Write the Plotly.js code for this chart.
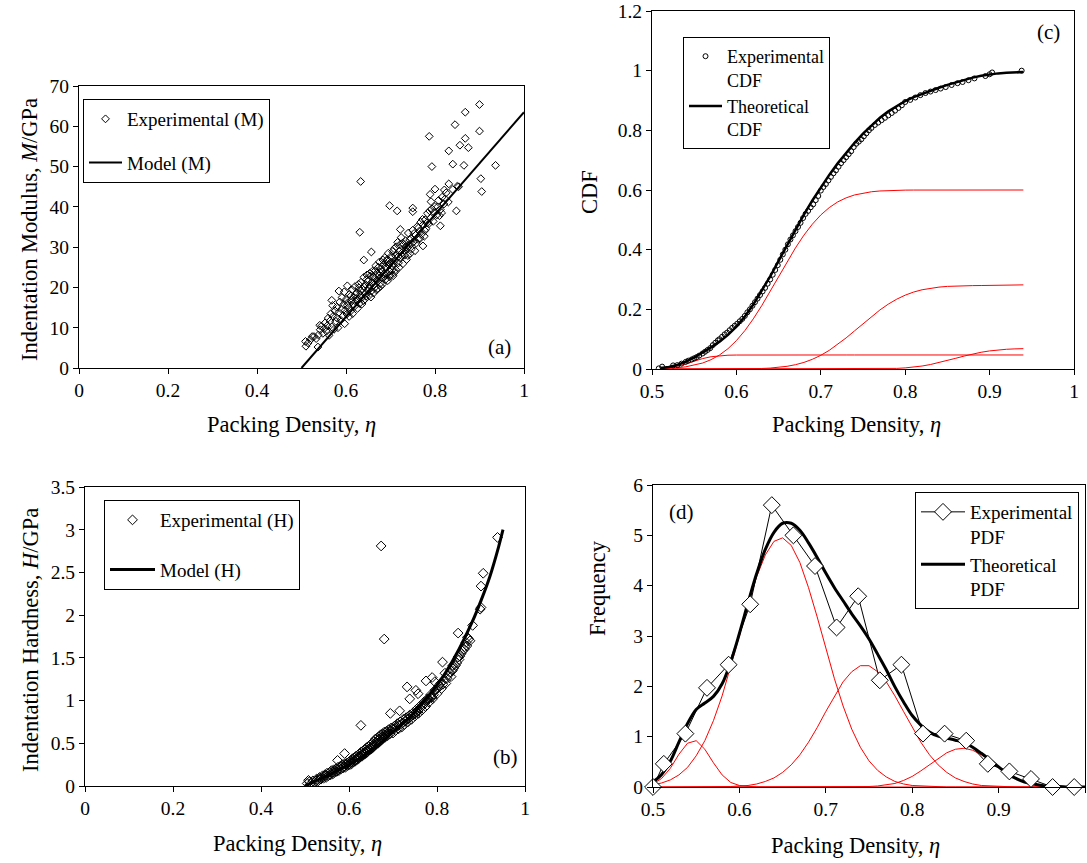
<!DOCTYPE html>
<html><head><meta charset="utf-8">
<script src="https://cdn.plot.ly/plotly-3.0.1.min.js"></script>
<style>body{margin:0;background:#fff}</style>
</head><body>
<div id="chart" style="width:1087px;height:863px"></div>
<script>
// ---------- DATA ----------
// (a) Indentation modulus vs packing density
const expModulus = [
[0.515,6.2],[0.52,7.0],[0.528,7.8],[0.533,7.3],[0.538,8.2],[0.542,9.5],[0.545,10.4],[0.548,8.6],[0.551,9.8],[0.553,11.2],
[0.556,9.1],[0.558,10.5],[0.56,12.4],[0.562,8.1],[0.564,11.7],[0.566,13.5],[0.568,10.2],[0.57,15.5],[0.571,12.8],[0.573,9.6],
[0.575,14.2],[0.577,11.6],[0.579,15.1],[0.58,12.4],[0.582,10.0],[0.584,13.8],[0.586,16.4],[0.588,11.9],[0.59,14.6],[0.591,17.5],
[0.593,12.9],[0.595,15.8],[0.597,11.0],[0.598,14.3],[0.6,17.0],[0.602,13.4],[0.604,16.2],[0.606,15.0],[0.608,18.3],[0.61,14.1],
[0.612,16.8],[0.614,19.4],[0.615,13.5],[0.617,17.6],[0.619,15.3],[0.62,20.2],[0.622,16.5],[0.624,18.7],[0.626,14.8],[0.627,17.2],
[0.629,19.9],[0.63,16.0],[0.632,18.1],[0.634,21.3],[0.635,17.4],[0.637,19.6],[0.639,16.7],[0.64,22.5],[0.642,18.4],[0.644,20.7],
[0.645,17.8],[0.647,23.1],[0.649,19.3],[0.65,21.6],[0.652,18.0],[0.654,20.4],[0.655,22.8],[0.657,19.1],[0.659,24.0],[0.66,21.2],
[0.662,18.6],[0.664,22.3],[0.665,20.0],[0.667,25.4],[0.669,21.8],[0.67,23.6],[0.672,19.7],[0.674,22.9],[0.675,26.3],[0.677,21.0],
[0.679,24.5],[0.68,22.4],[0.682,20.8],[0.684,25.7],[0.685,23.3],[0.687,27.4],[0.689,22.0],[0.69,24.9],[0.692,26.6],[0.694,21.7],
[0.695,28.5],[0.697,24.1],[0.699,26.0],[0.7,23.2],[0.702,27.8],[0.704,25.3],[0.706,22.9],[0.708,29.6],[0.71,26.7],[0.712,24.4],
[0.714,28.2],[0.716,31.2],[0.718,26.1],[0.72,29.0],[0.722,27.3],[0.724,32.4],[0.726,28.6],[0.728,25.9],[0.73,30.7],[0.732,28.0],
[0.734,31.6],[0.736,26.9],[0.738,29.8],[0.74,33.5],[0.742,30.3],[0.744,28.4],[0.746,32.1],[0.748,30.9],[0.75,34.2],[0.752,31.4],
[0.755,29.1],[0.757,33.0],[0.76,35.1],[0.762,31.9],[0.765,34.0],[0.768,36.2],[0.77,33.3],[0.773,35.5],[0.776,32.7],[0.778,36.8],
[0.78,34.6],[0.783,38.4],[0.786,35.8],[0.79,37.2],[0.793,39.5],[0.796,36.4],[0.8,40.1],[0.804,38.0],[0.808,41.6],[0.812,39.3],
[0.816,42.4],[0.82,40.7],[0.825,43.5],[0.83,41.2],[0.84,44.3],[0.85,45.1],
[0.603,15.6],[0.607,12.8],[0.611,17.9],[0.616,15.9],[0.621,18.2],[0.625,16.9],[0.628,20.8],[0.633,19.2],[0.636,15.9],[0.641,20.1],
[0.643,17.1],[0.646,21.9],[0.651,19.8],[0.653,23.5],[0.656,17.6],[0.661,22.7],[0.663,20.6],[0.666,24.2],[0.668,19.4],[0.671,21.5],
[0.673,25.0],[0.676,23.8],[0.678,20.3],[0.681,24.0],[0.683,26.8],[0.686,22.6],[0.688,25.1],[0.691,23.4],[0.693,27.0],[0.696,25.6],
[0.698,22.6],[0.701,26.3],[0.703,24.3],[0.705,28.9],[0.707,26.0],[0.709,23.7],[0.711,27.9],[0.713,30.1],[0.717,27.6],[0.719,24.9],
[0.721,30.6],[0.725,27.9],[0.727,31.0],[0.731,29.2],[0.735,30.0],[0.739,27.9],[0.743,31.8],[0.747,29.5],[0.753,33.4],[0.758,31.0],
[0.763,34.8],[0.767,32.2],[0.772,36.9],[0.777,34.1],[0.782,36.0],[0.788,39.0],[0.798,38.6],[0.806,40.0],[0.815,38.5],[0.823,42.0],
[0.633,46.3],[0.631,33.7],[0.787,57.5],[0.9,65.4],[0.868,63.5],[0.845,60.4],[0.9,58.8],[0.868,57.0],[0.856,55.3],[0.875,54.7],
[0.831,53.9],[0.84,50.6],[0.865,50.3],[0.936,50.3],[0.793,50.0],[0.903,47.0],[0.905,43.8],[0.848,39.0],[0.853,45.0],[0.831,45.7],
[0.821,44.2],[0.80,44.4],[0.81,37.8],[0.812,35.3],[0.789,43.1],[0.791,41.3],[0.698,40.3],[0.715,39.0],[0.75,39.7],[0.75,38.8],
[0.773,30.3],[0.657,28.8],[0.64,26.8],[0.722,34.4],[0.596,18.9],[0.584,19.1],[0.603,20.4],[0.509,6.6],[0.51,5.4],[0.537,5.2],
[0.524,7.8],[0.541,10.6],[0.568,16.8]
];
const modelEtaM = [0.5, 0.75, 1.0];
const modelM = [0, 31.75, 63.5];

// (b) Indentation hardness vs packing density
const expHardness = [
[0.505,0.03],[0.51,0.05],[0.512,0.02],[0.518,0.06],[0.522,0.04],[0.526,0.08],[0.53,0.06],[0.533,0.1],[0.536,0.08],[0.54,0.12],
[0.542,0.09],[0.545,0.13],[0.548,0.1],[0.55,0.15],[0.553,0.12],[0.556,0.16],[0.558,0.13],[0.56,0.18],[0.563,0.14],[0.565,0.19],
[0.567,0.16],[0.57,0.2],[0.572,0.17],[0.575,0.22],[0.577,0.18],[0.58,0.23],[0.582,0.2],[0.585,0.25],[0.587,0.21],[0.59,0.26],
[0.592,0.22],[0.595,0.27],[0.597,0.24],[0.6,0.28],[0.602,0.25],[0.604,0.3],[0.606,0.26],[0.608,0.32],[0.61,0.28],[0.612,0.33],
[0.614,0.29],[0.616,0.35],[0.618,0.31],[0.62,0.36],[0.622,0.32],[0.624,0.38],[0.626,0.34],[0.628,0.4],[0.63,0.35],[0.632,0.41],
[0.634,0.37],[0.636,0.43],[0.638,0.38],[0.64,0.45],[0.642,0.4],[0.644,0.46],[0.646,0.42],[0.648,0.48],[0.65,0.43],[0.652,0.5],
[0.654,0.45],[0.656,0.52],[0.658,0.47],[0.66,0.55],[0.662,0.49],[0.664,0.56],[0.666,0.5],[0.668,0.58],[0.67,0.52],[0.672,0.6],
[0.674,0.54],[0.676,0.61],[0.678,0.56],[0.68,0.63],[0.682,0.57],[0.685,0.64],[0.688,0.59],[0.69,0.66],[0.693,0.61],[0.696,0.68],
[0.7,0.62],[0.703,0.7],[0.706,0.65],[0.71,0.73],[0.713,0.67],[0.716,0.75],[0.72,0.69],[0.723,0.78],[0.726,0.72],[0.73,0.8],
[0.734,0.75],[0.738,0.83],[0.742,0.78],[0.746,0.86],[0.75,0.82],[0.754,0.9],[0.758,0.85],[0.762,0.94],[0.766,0.89],[0.77,0.98],
[0.774,0.93],[0.778,1.02],[0.782,0.98],[0.786,1.07],[0.79,1.02],[0.795,1.12],[0.8,1.08],[0.805,1.18],[0.81,1.14],[0.815,1.24],
[0.82,1.2],[0.826,1.3],[0.832,1.28],[0.838,1.38],[0.845,1.44],[0.852,1.52],[0.858,1.58],[0.866,1.68],[0.872,1.72],
[0.601,0.26],[0.605,0.28],[0.609,0.3],[0.613,0.3],[0.617,0.32],[0.621,0.34],[0.625,0.35],[0.629,0.37],[0.633,0.38],[0.637,0.4],
[0.641,0.42],[0.645,0.43],[0.649,0.45],[0.653,0.47],[0.657,0.49],[0.661,0.51],[0.665,0.53],[0.669,0.55],[0.673,0.57],[0.677,0.58],
[0.681,0.6],[0.686,0.61],[0.691,0.63],[0.695,0.65],[0.699,0.67],[0.704,0.67],[0.708,0.7],[0.712,0.71],[0.718,0.72],[0.722,0.74],
[0.728,0.76],[0.732,0.78],[0.736,0.79],[0.74,0.81],[0.745,0.83],[0.749,0.85],[0.753,0.87],[0.757,0.88],[0.761,0.91],[0.765,0.93],
[0.769,0.95],[0.773,0.97],[0.777,1.0],[0.781,1.02],[0.785,1.04],[0.792,1.07],[0.798,1.13],[0.803,1.15],[0.808,1.2],[0.813,1.19],
[0.823,1.26],[0.829,1.33],[0.835,1.35],[0.842,1.41],[0.85,1.48],[0.855,1.55],[0.862,1.6],[0.868,1.64],[0.875,1.7],[0.562,0.16],
[0.568,0.18],[0.578,0.21],[0.588,0.23],[0.594,0.25],[0.546,0.12],[0.535,0.09],[0.525,0.06],
[0.673,2.81],[0.68,1.72],[0.627,0.71],[0.732,1.16],[0.9375,2.91],[0.905,2.49],[0.90,2.34],[0.90,2.09],[0.898,2.07],[0.881,1.88],
[0.848,1.79],[0.869,1.74],[0.863,1.63],[0.848,1.51],[0.836,1.41],[0.8125,1.45],[0.789,1.27],[0.775,1.23],[0.789,1.04],[0.752,1.12],
[0.738,1.02],[0.754,0.86],[0.694,0.85],[0.715,0.88],[0.59,0.38],[0.574,0.3],[0.508,0.066],[0.757,1.08],[0.795,1.22],[0.818,1.32]
];
const modelEtaH = [0.5,0.52,0.55,0.58,0.6,0.62,0.65,0.68,0.7,0.72,0.75,0.78,0.8,0.82,0.85,0.88,0.9,0.92,0.94,0.95];
const modelH    = [0.0,0.05,0.12,0.2,0.25,0.31,0.41,0.54,0.63,0.72,0.87,1.05,1.18,1.33,1.6,1.92,2.17,2.45,2.8,3.0];

// (c) CDF
const expCDF = [
[0.508,0.002],[0.512,0.008],[0.525,0.012],[0.53,0.013],[0.535,0.018],[0.54,0.024],[0.543,0.028],[0.547,0.032],[0.55,0.036],[0.553,0.04],
[0.556,0.045],[0.56,0.052],[0.563,0.058],[0.566,0.064],[0.569,0.07],[0.572,0.08],[0.575,0.088],[0.578,0.096],[0.58,0.1],[0.583,0.108],
[0.586,0.116],[0.589,0.122],[0.592,0.13],[0.595,0.138],[0.598,0.145],[0.601,0.152],[0.604,0.16],[0.607,0.168],[0.61,0.178],[0.613,0.19],
[0.616,0.2],[0.619,0.212],[0.622,0.224],[0.625,0.236],[0.628,0.248],[0.631,0.26],[0.634,0.272],[0.637,0.286],[0.64,0.3],[0.643,0.316],
[0.646,0.332],[0.649,0.348],[0.652,0.366],[0.655,0.384],[0.658,0.4],[0.661,0.418],[0.664,0.434],[0.667,0.448],[0.67,0.462],[0.673,0.476],
[0.676,0.49],[0.679,0.506],[0.682,0.52],[0.685,0.53],[0.688,0.542],[0.691,0.552],[0.694,0.566],[0.697,0.58],[0.7,0.598],[0.703,0.61],
[0.706,0.62],[0.709,0.632],[0.712,0.644],[0.715,0.656],[0.718,0.666],[0.721,0.678],[0.724,0.69],[0.727,0.7],[0.73,0.71],[0.733,0.72],
[0.736,0.73],[0.739,0.744],[0.742,0.755],[0.745,0.762],[0.748,0.77],[0.751,0.78],[0.754,0.79],[0.757,0.8],[0.76,0.808],[0.764,0.818],
[0.768,0.826],[0.772,0.834],[0.776,0.842],[0.78,0.85],[0.784,0.858],[0.788,0.866],[0.792,0.875],[0.796,0.884],[0.8,0.895],[0.806,0.902],
[0.812,0.91],[0.818,0.918],[0.824,0.925],[0.83,0.93],[0.836,0.935],[0.842,0.94],[0.848,0.945],[0.855,0.952],[0.862,0.958],[0.868,0.962],
[0.875,0.968],[0.882,0.974],[0.895,0.982],[0.9,0.988],[0.903,0.994],[0.938,1.0]
];
const cdfEta = [0.51,0.52,0.53,0.54,0.55,0.56,0.57,0.58,0.59,0.60,0.61,0.62,0.63,0.64,0.65,0.66,0.67,0.68,0.69,0.70,
0.71,0.72,0.73,0.74,0.75,0.76,0.77,0.78,0.79,0.80,0.81,0.82,0.83,0.84,0.85,0.86,0.87,0.88,0.89,0.90,0.91,0.92,0.93,0.94];
const cdfTheory = [0.003,0.0065,0.0135,0.0244,0.0387,0.0549,0.0724,0.0917,0.1143,0.1422,0.176,0.2159,0.261,0.3101,0.3625,0.415,0.4674,0.5177,0.565,0.6093,
0.6505,0.6892,0.7249,0.7582,0.7891,0.8169,0.842,0.8637,0.8822,0.8982,0.9112,0.9226,0.9331,0.9428,0.9523,0.9613,0.9696,0.9768,0.9829,0.9876,0.9909,0.9931,0.9944,0.9952];
const cdfComp1 = [0.0015,0.0042,0.0093,0.0171,0.0263,0.0349,0.0411,0.0447,0.0463,0.0468,
0.047,0.047,0.047,0.047,0.047,0.047,0.047,0.047,0.047,0.047,0.047,0.047,0.047,0.047,0.047,0.047,0.047,0.047,0.047,0.047,0.047,0.047,0.047,0.047,0.047,0.047,0.047,0.047,0.047,0.047,0.047,0.047,0.047,0.047];
const cdfComp2 = [0.0012,0.0023,0.0042,0.0073,0.0124,0.0200,0.0313,0.047,0.068,0.0952,0.1285,0.168,0.2123,0.260,0.310,0.359,0.406,0.4486,0.4855,0.5164,
0.541,0.560,0.5737,0.5834,0.5899,0.5941,0.5967,0.5982,0.5991,0.5996,0.5998,0.5999,0.6,0.6,0.6,0.6,0.6,0.6,0.6,0.6,0.6,0.6,0.6,0.6];
const cdfComp3 = [0,0,0,0,0,0,0,0,0.0001,0.0002,
0.0005,0.0009,0.0017,0.0031,0.0055,0.009,0.0144,0.0221,0.0325,0.0459,0.0625,0.0822,0.1042,0.1278,0.1522,0.1758,0.1978,0.2175,0.2341,0.2475,
0.2579,0.2656,0.271,0.2745,0.2769,0.2783,0.2791,0.2795,0.2798,0.28,0.2805,0.281,0.2815,0.282];
const cdfComp4 = [0,0,0,0,0,0,0,0,0,0,0,0,0,0,0,0,0,0,0,0,0,0,0,0,0,0,
0.0005,0.001,0.002,0.0037,0.0063,0.01,0.0151,0.0213,0.0284,0.036,0.0435,0.0503,0.0561,0.0606,0.0639,0.0661,0.0674,0.0682];

// (d) PDF
const pdfBinEta = [0.5,0.5125,0.5375,0.5625,0.5875,0.6125,0.6375,0.6625,0.6875,0.7125,0.7375,0.7625,0.7875,0.8125,0.8375,0.8625,0.8875,0.9125,0.9375,0.9625,0.9875];
const pdfFreq   = [0,0.46,1.06,1.97,2.43,3.63,5.6,5.0,4.39,3.17,3.79,2.12,2.43,1.06,1.06,0.92,0.46,0.31,0.16,0,0];
const pdfEta = [0.50,0.51,0.52,0.53,0.54,0.55,0.56,0.57,0.58,0.59,0.60,0.61,0.62,0.63,0.64,0.65,0.66,0.67,0.68,0.69,
0.70,0.71,0.72,0.73,0.74,0.75,0.76,0.77,0.78,0.79,0.80,0.81,0.82,0.83,0.84,0.85,0.86,0.87,0.88,0.89,
0.90,0.91,0.92,0.93,0.94,0.95,0.96,0.97,0.98,0.99,1.00];
const pdfTheory = [0.10,0.25,0.51,0.89,1.26,1.54,1.67,1.80,2.05,2.49,3.05,3.66,4.24,4.72,5.06,5.24,5.24,5.10,4.85,4.56,
4.25,3.96,3.70,3.44,3.20,2.94,2.64,2.33,1.99,1.69,1.42,1.23,1.09,1.01,0.97,0.93,0.88,0.79,0.67,0.54,
0.40,0.27,0.17,0.10,0.06,0.03,0.01,0.01,0,0,0];
const pdfComp1 = [0.06,0.17,0.37,0.65,0.87,0.92,0.75,0.48,0.24,0.09,0.03,0.01,
0,0,0,0,0,0,0,0,0,0,0,0,0,0,0,0,0,0,0,0,0,0,0,0,0,0,0,0,0,0,0,0,0,0,0,0,0,0,0];
const pdfComp2 = [0.04,0.08,0.14,0.24,0.39,0.62,0.92,1.32,1.81,2.39,3.00,3.62,4.18,4.61,4.88,4.95,4.80,4.46,3.96,3.38,
2.75,2.15,1.61,1.15,0.79,0.52,0.33,0.20,0.11,0.06,0.03,0.02,0.01,
0,0,0,0,0,0,0,0,0,0,0,0,0,0,0,0,0,0];
const pdfComp3 = [0,0,0,0,0,0,0,0,0,0.01,
0.02,0.03,0.06,0.11,0.18,0.29,0.44,0.64,0.89,1.18,1.50,1.81,2.09,2.29,2.41,2.41,2.29,2.09,1.81,1.50,1.18,0.89,0.64,0.44,0.29,0.18,0.11,0.06,0.03,0.02,0.01,
0,0,0,0,0,0,0,0,0,0];
const pdfComp4 = [0,0,0,0,0,0,0,0,0,0,0,0,0,0,0,0,0,0,0,0,0,0,0,0,
0,0.01,0.02,0.04,0.07,0.13,0.21,0.32,0.44,0.57,0.68,0.75,0.77,0.73,0.64,0.52,0.39,0.27,0.17,0.10,0.06,0.03,0.01,0.01,
0,0,0];

// ---------- LAYOUT HELPERS ----------
const W = 1087, H = 863;
const FONT = 'Liberation Serif';
const P = {
  a: {l:79,  r:524,  t:86,  b:368},
  c: {l:652, r:1074, t:11,  b:369},
  b: {l:85,  r:525,  t:487, b:786},
  d: {l:653, r:1085, t:485, b:787}
};
const xd = p => [p.l/W, p.r/W];
const yd = p => [1 - p.b/H, 1 - p.t/H];
const px = v => v/W, py = v => 1 - v/H;

const axBase = {
  showline:true, linecolor:'black', linewidth:1, mirror:true,
  ticks:'outside', ticklen:5, tickcolor:'black', tickwidth:1,
  showgrid:false, zeroline:false, fixedrange:true,
  tickfont:{family:FONT, size:19.5, color:'black'}
};
const ax = (o) => Object.assign({}, axBase, o);

const red = {color:'#ff0000', width:1};
const col = (arr,i) => arr.map(p => p[i]);

const traces = [
  // (a)
  {x:col(expModulus,0), y:col(expModulus,1), type:'scatter', mode:'markers', name:'Experimental (M)',
   marker:{symbol:'diamond-open', size:6, color:'black', line:{width:1}}, xaxis:'x', yaxis:'y', legend:'legend', legendgroup:'a1'},
  {x:modelEtaM, y:modelM, type:'scatter', mode:'lines', name:'Model (M)',
   line:{color:'black', width:2}, xaxis:'x', yaxis:'y', legend:'legend', legendgroup:'a2'},
  // (c)
  {x:cdfEta, y:cdfComp1, mode:'lines', line:red, showlegend:false, xaxis:'x2', yaxis:'y2'},
  {x:cdfEta, y:cdfComp2, mode:'lines', line:red, showlegend:false, xaxis:'x2', yaxis:'y2'},
  {x:cdfEta, y:cdfComp3, mode:'lines', line:red, showlegend:false, xaxis:'x2', yaxis:'y2'},
  {x:cdfEta, y:cdfComp4, mode:'lines', line:red, showlegend:false, xaxis:'x2', yaxis:'y2'},
  {x:col(expCDF,0), y:col(expCDF,1), type:'scatter', mode:'markers', name:'Experimental<br>CDF',
   marker:{symbol:'circle-open', size:5, color:'black', line:{width:1}}, xaxis:'x2', yaxis:'y2', legend:'legend2', legendgroup:'c1'},
  {x:cdfEta, y:cdfTheory, type:'scatter', mode:'lines', name:'Theoretical<br>CDF',
   line:{color:'black', width:2.5}, xaxis:'x2', yaxis:'y2', legend:'legend2', legendgroup:'c2'},
  // (b)
  {x:col(expHardness,0), y:col(expHardness,1), type:'scatter', mode:'markers', name:'Experimental (H)',
   marker:{symbol:'diamond-open', size:7.5, color:'black', line:{width:1}}, xaxis:'x3', yaxis:'y3', legend:'legend3', legendgroup:'b1'},
  {x:modelEtaH, y:modelH, type:'scatter', mode:'lines', name:'Model (H)', line:{color:'black', width:3, shape:'spline'},
   xaxis:'x3', yaxis:'y3', legend:'legend3', legendgroup:'b2'},
  // (d)
  {x:pdfEta, y:pdfComp1, mode:'lines', line:red, showlegend:false, xaxis:'x4', yaxis:'y4', cliponaxis:false},
  {x:pdfEta, y:pdfComp2, mode:'lines', line:red, showlegend:false, xaxis:'x4', yaxis:'y4', cliponaxis:false},
  {x:pdfEta, y:pdfComp3, mode:'lines', line:red, showlegend:false, xaxis:'x4', yaxis:'y4', cliponaxis:false},
  {x:pdfEta, y:pdfComp4, mode:'lines', line:red, showlegend:false, xaxis:'x4', yaxis:'y4', cliponaxis:false},
  {x:pdfEta, y:pdfTheory, type:'scatter', mode:'lines', name:'Theoretical<br>PDF', line:{color:'black', width:3, shape:'spline'},
   xaxis:'x4', yaxis:'y4', legend:'legend4', legendgroup:'d2', legendrank:2},
  {x:pdfBinEta, y:pdfFreq, type:'scatter', mode:'lines+markers', name:'Experimental<br>PDF',
   line:{color:'black', width:1}, marker:{symbol:'diamond', size:13, color:'white', line:{color:'black', width:1}},
   xaxis:'x4', yaxis:'y4', legend:'legend4', legendgroup:'d1', legendrank:1, cliponaxis:false}
];

const legBase = {xref:'paper', yref:'paper', xanchor:'left', yanchor:'top', bgcolor:'white',
  bordercolor:'black', borderwidth:1, font:{family:FONT, size:19, color:'black'}, valign:'top'};
const leg = o => Object.assign({}, legBase, o);

const ann = (x, y, text, o) => Object.assign({xref:'paper', yref:'paper', x:px(x), y:py(y), text,
  showarrow:false, font:{family:FONT, size:22.5, color:'black'}, xanchor:'center', yanchor:'middle'}, o||{});

const etaTitle = 'Packing Density, <i>η</i>';
const lblFont = {family:FONT, size:21, color:'black'};

const layout = {
  width:W, height:H, margin:{l:0, r:0, t:0, b:0},
  paper_bgcolor:'white', plot_bgcolor:'white', showlegend:true,
  font:{family:FONT, color:'black'},
  xaxis:  ax({domain:xd(P.a), range:[0,1], dtick:0.2, tick0:0, anchor:'y'}),
  yaxis:  ax({domain:yd(P.a), range:[0,70], dtick:10, tick0:0, anchor:'x'}),
  xaxis2: ax({domain:xd(P.c), range:[0.5,1], dtick:0.1, tick0:0.5, anchor:'y2'}),
  yaxis2: ax({domain:yd(P.c), range:[0,1.2], dtick:0.2, tick0:0, anchor:'x2'}),
  xaxis3: ax({domain:xd(P.b), range:[0,1], dtick:0.2, tick0:0, anchor:'y3'}),
  yaxis3: ax({domain:yd(P.b), range:[0,3.5], dtick:0.5, tick0:0, anchor:'x3'}),
  xaxis4: ax({domain:xd(P.d), range:[0.5,1], dtick:0.1, tick0:0.5, anchor:'y4'}),
  yaxis4: ax({domain:yd(P.d), range:[0,6], dtick:1, tick0:0, anchor:'x4'}),
  legend:  leg({x:px(83),  y:py(99),  tracegroupgap:16, itemwidth:33}),
  legend2: leg({x:px(683), y:py(37),  tracegroupgap:0,  itemwidth:33, font:{family:FONT, size:18, color:'black'}}),
  legend3: leg({x:px(104), y:py(500), tracegroupgap:22, itemwidth:45}),
  legend4: leg({x:px(915), y:py(492), tracegroupgap:0,  itemwidth:44}),
  annotations: [
    ann(291, 424, etaTitle),
    ann(30, 230, 'Indentation Modulus, <i>M</i>/GPa', {textangle:-90}),
    ann(856, 424, etaTitle),
    ann(590, 192, 'CDF', {textangle:-90}),
    ann(297, 843, etaTitle),
    ann(30, 640, 'Indentation Hardness, <i>H</i>/GPa', {textangle:-90}),
    ann(855, 845, etaTitle),
    ann(597, 588, 'Frequency', {textangle:-90}),
    ann(499, 347, '(a)', {font:lblFont}),
    ann(505, 757, '(b)', {font:lblFont}),
    ann(1048, 32, '(c)', {font:lblFont}),
    ann(681, 512, '(d)', {font:lblFont})
  ]
};

Plotly.newPlot('chart', traces, layout, {staticPlot:true, displayModeBar:false});
</script>
</body></html>
